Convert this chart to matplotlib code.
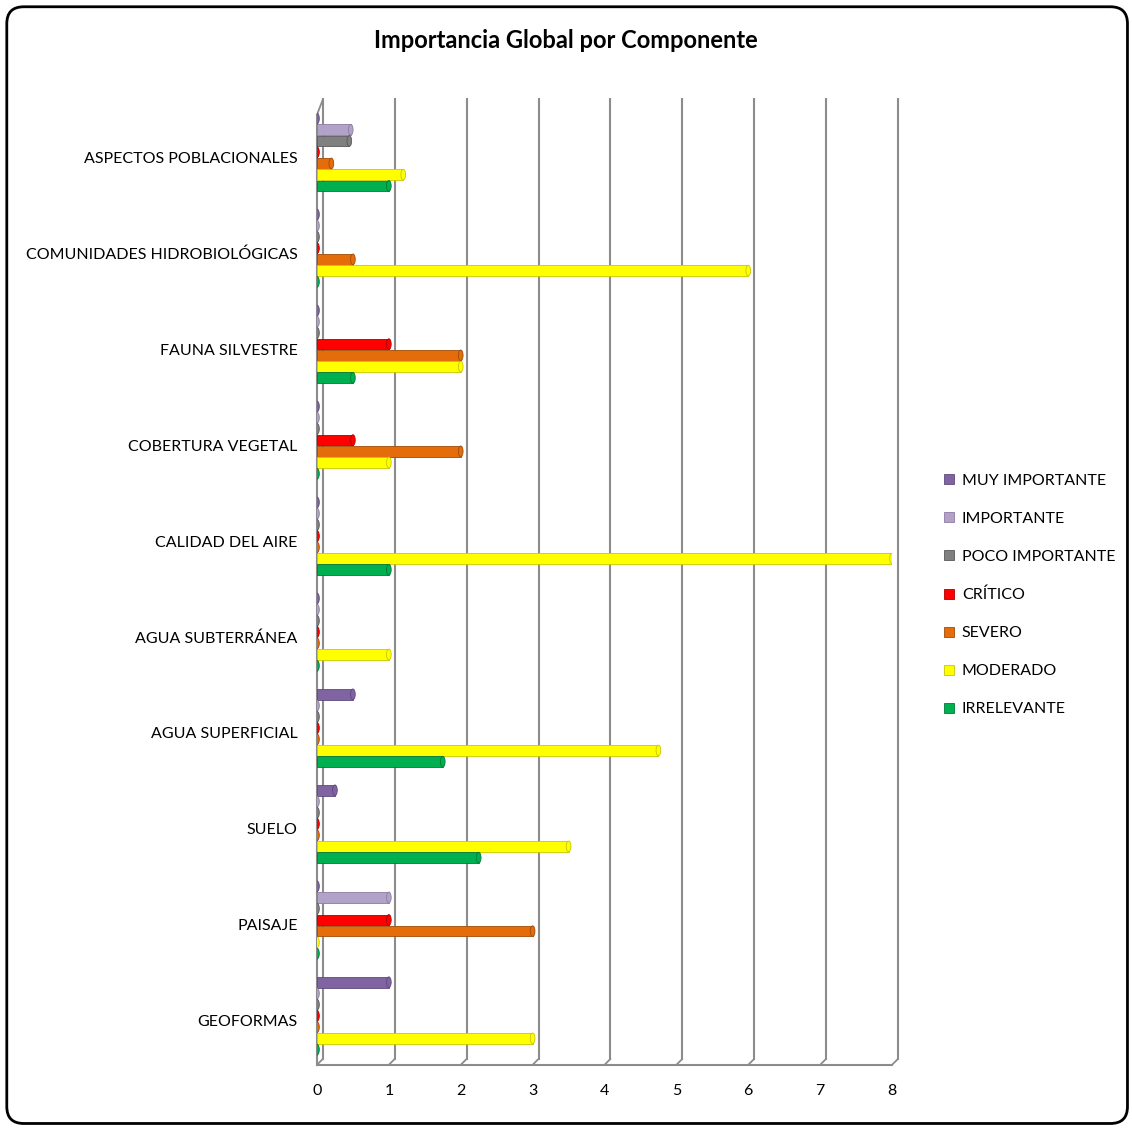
import numpy as np
import matplotlib.pyplot as plt
from matplotlib.patches import Ellipse, FancyBboxPatch
import matplotlib.transforms as mtransforms

plt.rcParams['font.family'] = ['Lato', 'DejaVu Sans']

# components, bottom to top
componentes = ['GEOFORMAS', 'PAISAJE', 'SUELO', 'AGUA SUPERFICIAL', 'AGUA SUBTERRÁNEA',
               'CALIDAD DEL AIRE', 'COBERTURA VEGETAL', 'FAUNA SILVESTRE',
               'COMUNIDADES HIDROBIOLÓGICAS', 'ASPECTOS POBLACIONALES']

series = ['MUY IMPORTANTE', 'IMPORTANTE', 'POCO IMPORTANTE', 'CRÍTICO',
          'SEVERO', 'MODERADO', 'IRRELEVANTE']
colores = ['#8064A2', '#B3A2C7', '#808080', '#FF0000', '#E46C0A', '#FFFF00', '#00B050']
bordes = ['#5F497A', '#8C7BA5', '#595959', '#B00000', '#A04C06', '#C8C800', '#007A38']

muy_importante = [1, 0, 0.25, 0.5, 0, 0, 0, 0, 0, 0]
importante = [0, 1, 0, 0, 0, 0, 0, 0, 0, 0.47]
poco_importante = [0, 0, 0, 0, 0, 0, 0, 0, 0, 0.45]
critico = [0, 1, 0, 0, 0, 0, 0.5, 1, 0, 0]
severo = [0, 3, 0, 0, 0, 0, 2, 2, 0.5, 0.2]
moderado = [3, 0, 3.5, 4.75, 1, 8, 1, 2, 6, 1.2]
irrelevante = [0, 0, 2.25, 1.75, 0, 1, 0, 0.5, 0, 1]

valores = [muy_importante, importante, poco_importante, critico, severo, moderado, irrelevante]

fig = plt.figure(figsize=(11.32, 11.28), dpi=100)
ax = fig.add_axes([0.280, 0.056, 0.508, 0.855])

y = np.arange(len(componentes))
h = 0.117
for i, (nombre, vals) in enumerate(zip(series, valores)):
    yy = y + (3 - i) * h
    ax.barh(yy, vals, height=h * 0.95, color=colores[i], edgecolor=bordes[i],
            linewidth=0.6, label=nombre, zorder=3)
    for v, yc in zip(vals, yy):
        # cylinder end cap / flat disc for zero values
        ax.add_patch(Ellipse((v, yc), 0.065, h * 0.95, facecolor=colores[i],
                             edgecolor=bordes[i], linewidth=0.6, zorder=4))

ax.set_xlim(0, 8)
ax.set_ylim(-0.51, 9.54)
ax.set_xticks(range(9))
ax.set_yticks(y)
ax.set_yticklabels(componentes, fontsize=11.5)
ax.tick_params(axis='x', length=0, labelsize=11.5, pad=14)
ax.tick_params(axis='y', length=0, pad=14)
shift = mtransforms.ScaledTranslation(0, -0.05, fig.dpi_scale_trans)
for lab in ax.get_yticklabels():
    lab.set_transform(lab.get_transform() + shift)
for s in ax.spines.values():
    s.set_visible(False)

# pseudo 3D walls: back gridlines shifted, floor in front
back = mtransforms.offset_copy(ax.transData, fig=fig, x=6, y=6, units='dots')
ymin, ymax = ax.get_ylim()
for k in range(9):
    ax.plot([k, k], [ymin, ymax - 0.05], color='#8C8C8C', lw=1.5, transform=back,
            zorder=1, clip_on=False)
    ax.annotate('', xy=(k, ymin), xycoords=back, xytext=(k, ymin), textcoords='data',
                arrowprops=dict(arrowstyle='-', color='#8C8C8C', lw=1.3,
                                shrinkA=0, shrinkB=0))
ax.plot([0, 8], [ymin, ymin], color='#8C8C8C', lw=1.5, zorder=1, clip_on=False)
ax.plot([0, 0], [ymin, ymax - 0.15], color='#8C8C8C', lw=1.5, zorder=1, clip_on=False)
ax.annotate('', xy=(0, ymax - 0.05), xycoords=back, xytext=(0, ymax - 0.15),
            textcoords='data', arrowprops=dict(arrowstyle='-', color='#8C8C8C', lw=1.3,
                                               shrinkA=0, shrinkB=0))

fig.text(0.5, 0.964, 'Importancia Global por Componente', ha='center', va='center',
         fontsize=17, fontweight='bold')

ax.legend(loc='center left', bbox_to_anchor=(1.08, 0.487), frameon=False,
          fontsize=11.5, handlelength=0.6, handleheight=0.6, handletextpad=0.5,
          labelspacing=1.5, borderaxespad=0)

fig.patches.append(FancyBboxPatch((0.006, 0.004), 0.99, 0.99, boxstyle='round,pad=0,rounding_size=0.015',
                                  transform=fig.transFigure, facecolor='none',
                                  edgecolor='black', linewidth=2))

fig.savefig('out.png', dpi=100)
